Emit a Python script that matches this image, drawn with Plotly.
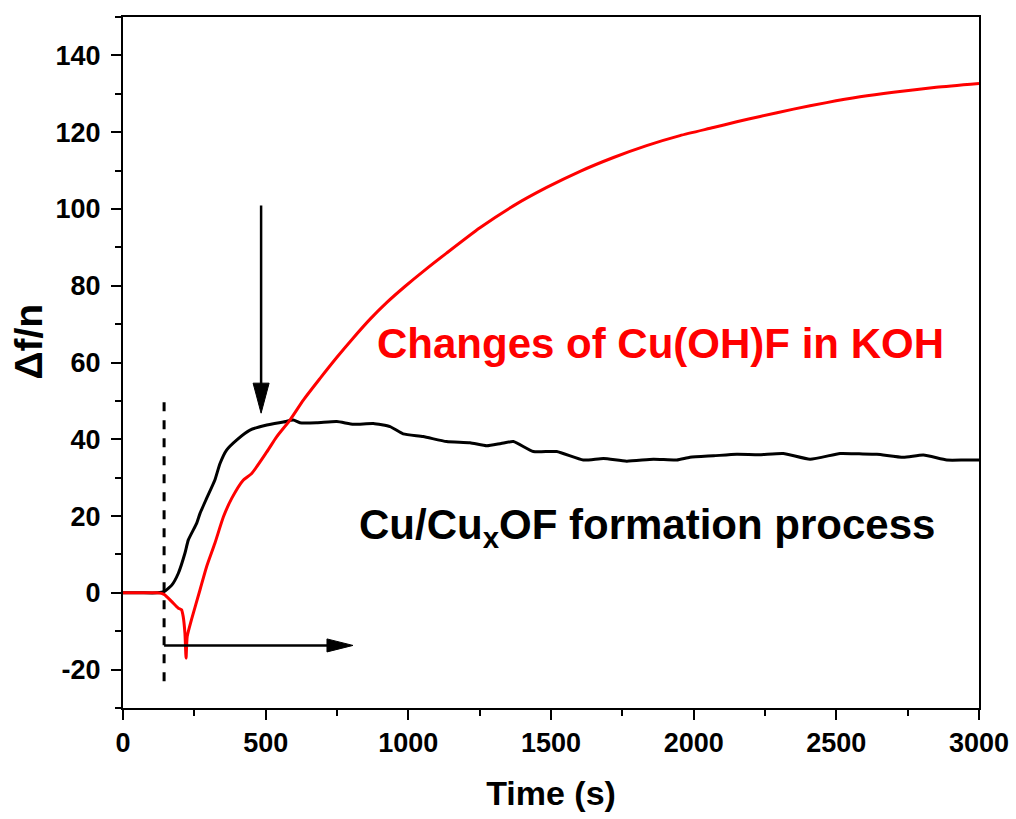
import plotly.graph_objects as go

# ---- data ----
black_t = [0, 60, 120, 144, 171, 194, 217, 229, 258, 270, 293, 322, 340, 363, 398, 445, 504,
           562, 597, 620, 679, 749, 808, 877, 936, 982, 1052, 1134, 1216, 1275, 1325, 1368,
           1438, 1520, 1613, 1684, 1765, 1859, 1941, 1987, 2070, 2151, 2230, 2314, 2408,
           2513, 2580, 2642, 2735, 2805, 2887, 2950, 3000]
black_y = [0, 0, 0, 0.3, 2, 5.1, 10.3, 13.8, 18.1, 20.7, 24.6, 29.4, 33.7, 37.2, 39.8, 42.4,
           43.7, 44.5, 45, 44.3, 44.3, 44.6, 43.9, 44.1, 43.3, 41.4, 40.7, 39.4, 39.1, 38.3,
           38.9, 39.4, 36.8, 36.8, 34.6, 35.0, 34.3, 34.8, 34.6, 35.3, 35.7, 36.1, 36.0, 36.3,
           34.8, 36.3, 36.2, 36.1, 35.3, 35.9, 34.6, 34.6, 34.6]

red_t = [0, 60, 120, 144, 171, 194, 205, 211, 217, 221, 225, 240, 270, 293, 322, 352, 381,
         422, 451, 504, 539, 585, 632, 690, 749, 807, 866, 924, 988, 1060, 1134, 1251, 1368,
         1485, 1602, 1719, 1835, 1952, 2069, 2151, 2233, 2350, 2466, 2583, 2700, 2850, 3000]
red_y = [0, 0, 0, -0.4, -2.3, -4.0, -4.4, -6.2, -10.5, -17, -11.4, -7, 0.8, 6.8, 12.9, 19.8,
         24.6, 29.4, 31.1, 36.7, 40.7, 45.0, 50.2, 55.8, 61.3, 66.4, 71.3, 75.6, 79.8, 84.2,
         88.5, 95.1, 100.8, 105.6, 109.8, 113.4, 116.5, 119.1, 121.2, 122.7, 124.1, 126.0,
         127.7, 129.2, 130.4, 131.7, 132.7]

x_ticks = [0, 500, 1000, 1500, 2000, 2500, 3000]
y_ticks = [-20, 0, 20, 40, 60, 80, 100, 120, 140]

FONT = "Arial, Liberation Sans, sans-serif"

fig = go.Figure()
fig.add_trace(go.Scatter(x=black_t, y=black_y, mode="lines",
                         line=dict(color="black", width=3, shape="spline", smoothing=0.5),
                         showlegend=False))
fig.add_trace(go.Scatter(x=red_t, y=red_y, mode="lines",
                         line=dict(color="#ff0000", width=3, shape="spline", smoothing=0.6),
                         showlegend=False))

# dashed vertical marker
fig.add_shape(type="line", x0=144, x1=144, y0=-23, y1=49.7, xref="x", yref="y",
              line=dict(color="black", width=3, dash="dash"))
# horizontal arrow
fig.add_shape(type="line", x0=144, x1=730, y0=-13.7, y1=-13.7, xref="x", yref="y",
              line=dict(color="black", width=2.5))
fig.add_shape(type="path", xref="x", yref="y", xsizemode="pixel", ysizemode="pixel",
              xanchor=806, yanchor=-13.7, path="M0,0 L-26,6.5 L-26,-6.5 Z",
              fillcolor="black", line=dict(color="black", width=1))
# vertical arrow
fig.add_shape(type="line", x0=484, x1=484, y0=100.9, y1=52, xref="x", yref="y",
              line=dict(color="black", width=2.5))
fig.add_shape(type="path", xref="x", yref="y", xsizemode="pixel", ysizemode="pixel",
              xanchor=484, yanchor=46.8, path="M0,0 L-8,30 L8,30 Z",
              fillcolor="black", line=dict(color="black", width=1))

fig.add_annotation(x=1885, y=65, xref="x", yref="y", showarrow=False,
                   text="<b>Changes of Cu(OH)F in KOH</b>",
                   font=dict(family=FONT, size=42, color="#ff0000"))
fig.add_annotation(x=1837, y=17, xref="x", yref="y", showarrow=False,
                   text="<b>Cu/Cu<sub>x</sub>OF formation process</b>",
                   font=dict(family=FONT, size=42, color="black"))
# y-axis title
fig.add_annotation(x=-0.11, y=0.53, xref="paper", yref="paper", showarrow=False,
                   text="<b>Δf/n</b>", textangle=-90, xanchor="center", yanchor="middle",
                   font=dict(family=FONT, size=39, color="black"))

axis_common = dict(showline=True, linecolor="black", linewidth=2, mirror=True,
                   ticks="outside", ticklen=10, tickwidth=2, tickcolor="black",
                   showgrid=False, zeroline=False)

fig.update_xaxes(range=[0, 3000], tickvals=x_ticks, ticktext=[str(v) for v in x_ticks],
                 minor=dict(ticks="outside", ticklen=6, tickwidth=2, tickcolor="black", dtick=250),
                 tickfont=dict(family=FONT, size=27, color="black", weight="bold"),
                 title=dict(text="<b>Time (s)</b>", font=dict(family=FONT, size=34, color="black"),
                            standoff=24),
                 **axis_common)
fig.update_yaxes(range=[-30, 150], tickvals=y_ticks, ticktext=[str(v) for v in y_ticks],
                 minor=dict(ticks="outside", ticklen=6, tickwidth=2, tickcolor="black", dtick=10),
                 tickfont=dict(family=FONT, size=27, color="black", weight="bold"),
                 ticklabelstandoff=5,
                 **axis_common)

fig.update_layout(width=1016, height=819, paper_bgcolor="white", plot_bgcolor="white",
                  margin=dict(l=123, r=37, t=17, b=111, autoexpand=False))

fig.write_html("out.html")
